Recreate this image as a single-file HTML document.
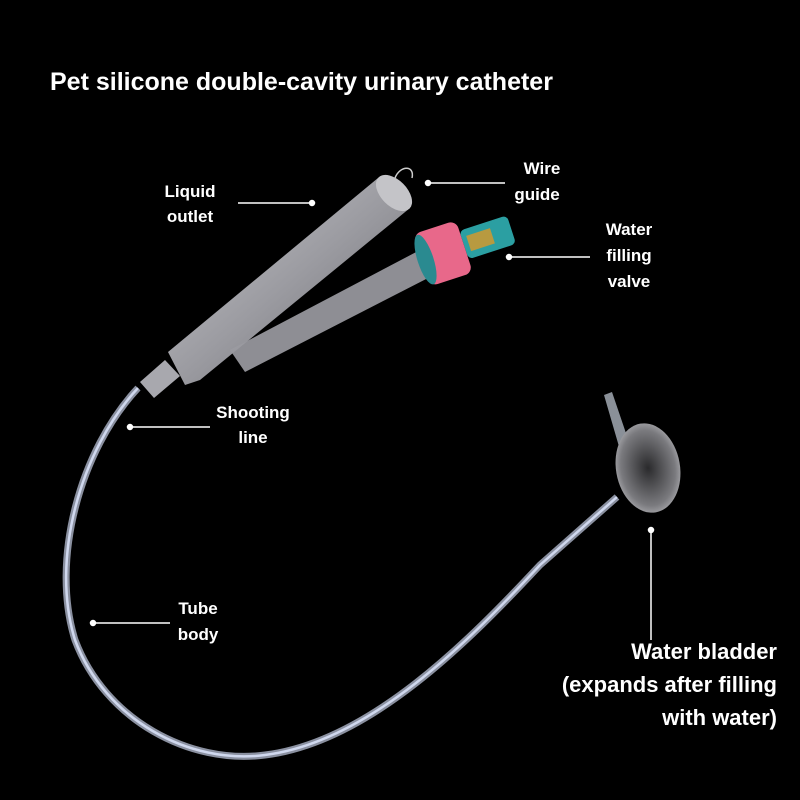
<!DOCTYPE html>
<html><head><meta charset="utf-8"><style>
html,body{margin:0;padding:0;background:#000;}
svg{display:block}
text{font-family:"Liberation Sans",sans-serif;font-weight:bold;fill:#fff;}
</style></head><body>
<svg width="800" height="800" viewBox="0 0 800 800">
<defs>
<linearGradient id="body" x1="0" y1="0" x2="1" y2="1">
<stop offset="0" stop-color="#d0d0d4"/><stop offset="0.5" stop-color="#a0a0a6"/><stop offset="1" stop-color="#6a6a70"/></linearGradient>
<radialGradient id="bl" cx="0.5" cy="0.5" r="0.6"><stop offset="0" stop-color="#2a2a2c"/><stop offset="0.7" stop-color="#7a7a7e"/><stop offset="1" stop-color="#c0c0c4"/></radialGradient>
</defs>
<rect width="800" height="800" fill="#000"/>
<text x="50" y="90" font-size="25">Pet silicone double-cavity urinary catheter</text>

<!-- tube -->
<path d="M138,388 C80,450 50,560 75,640 C105,720 190,765 265,755 C370,742 470,640 540,565 L617,497" fill="none" stroke="#8a90a0" stroke-width="7"/>
<path d="M138,388 C80,450 50,560 75,640 C105,720 190,765 265,755 C370,742 470,640 540,565 L617,497" fill="none" stroke="#d0d8ee" stroke-width="2.5"/>

<!-- side arm -->
<path d="M230,350 L420,250 L432,276 L245,372 Z" fill="#8e8e94"/>
<!-- main body -->
<path d="M168,352 L378,178 L410,208 L200,380 L185,385 Z" fill="url(#body)" opacity="0.97"/>
<ellipse cx="394" cy="193" rx="13" ry="22" transform="rotate(-45 394 193)" fill="#c4c4c8"/>
<path d="M395,178 C400,165 415,165 412,178" fill="none" stroke="#ccc" stroke-width="1.5"/>
<!-- nozzle -->
<path d="M140,382 L165,360 L180,376 L154,398 Z" fill="#a8a8ae"/>
<!-- pink cap -->
<g transform="rotate(-18 455 250)">
<rect x="465" y="233" width="50" height="30" rx="5" fill="#2b9fa2"/>
<rect x="470" y="240" width="25" height="16" fill="#b89a40"/>
<rect x="420" y="222" width="45" height="55" rx="8" fill="#e8688a"/>
<ellipse cx="424" cy="250" rx="8" ry="26" fill="#2a8a90"/>
</g>

<!-- bladder -->
<path d="M604,395 L612,392 L630,445 L620,450 Z" fill="#8a9098"/>
<ellipse cx="648" cy="468" rx="32" ry="45" transform="rotate(-10 648 468)" fill="url(#bl)"/>

<!-- callouts -->
<g stroke="#fff" stroke-width="1.5" fill="#fff">
<line x1="238" y1="203" x2="312" y2="203"/><circle cx="312" cy="203" r="2.5"/>
<line x1="428" y1="183" x2="505" y2="183"/><circle cx="428" cy="183" r="2.5"/>
<line x1="509" y1="257" x2="590" y2="257"/><circle cx="509" cy="257" r="2.5"/>
<line x1="130" y1="427" x2="210" y2="427"/><circle cx="130" cy="427" r="2.5"/>
<line x1="93" y1="623" x2="170" y2="623"/><circle cx="93" cy="623" r="2.5"/>
<line x1="651" y1="530" x2="651" y2="640"/><circle cx="651" cy="530" r="2.5"/>
</g>
<g font-size="17" text-anchor="middle">
<text x="190" y="197">Liquid</text><text x="190" y="222">outlet</text>
<text x="542" y="174">Wire</text><text x="537" y="200">guide</text>
<text x="629" y="235">Water</text><text x="629" y="261">filling</text><text x="629" y="287">valve</text>
<text x="253" y="418">Shooting</text><text x="253" y="443">line</text>
<text x="198" y="614">Tube</text><text x="198" y="640">body</text>
</g>
<g font-size="22" text-anchor="end">
<text x="777" y="659">Water bladder</text>
<text x="777" y="692">(expands after filling</text>
<text x="777" y="725">with water)</text>
</g>
</svg>
</body></html>
